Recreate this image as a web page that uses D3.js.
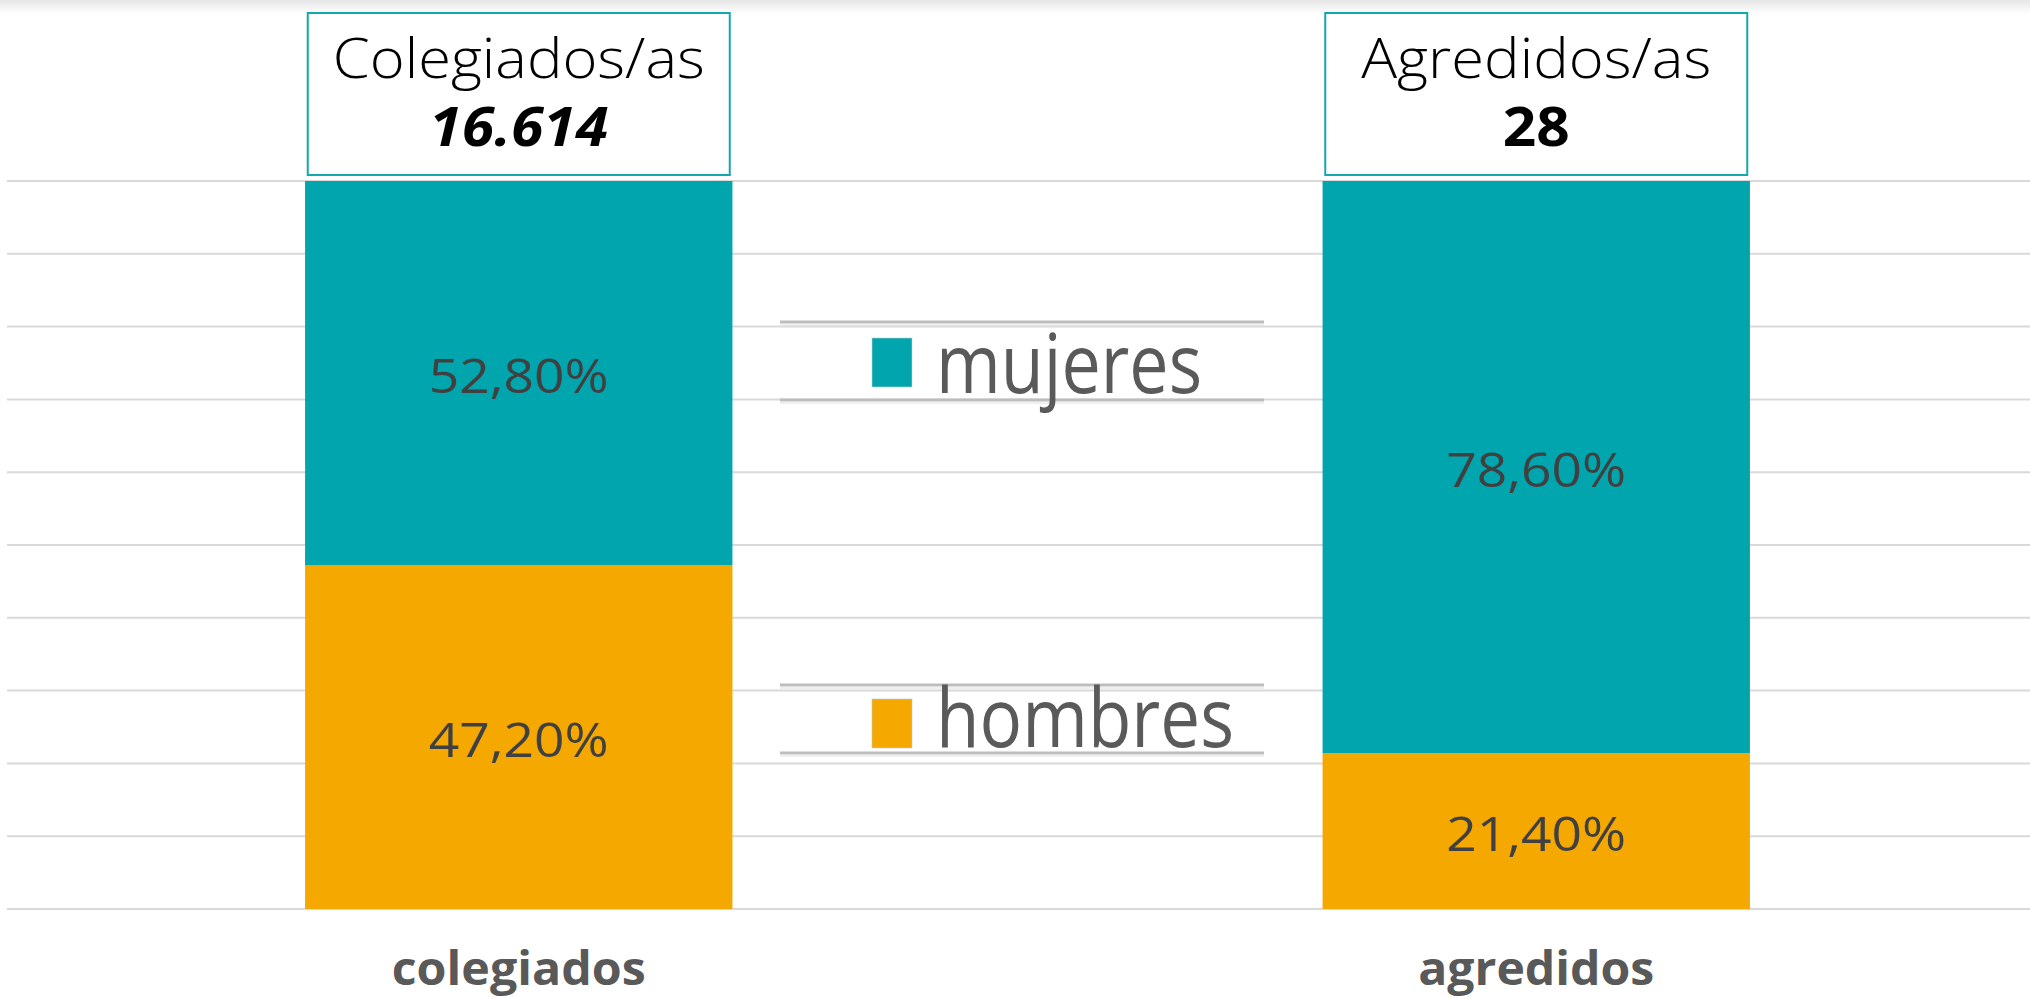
<!DOCTYPE html>
<html>
<head>
<meta charset="utf-8">
<script src="https://cdn.jsdelivr.net/npm/d3@7"></script>
<style>
  body { margin: 0; background: #fff; }
  svg { display: block; }
</style>
</head>
<body>
<svg id="chart" width="2030" height="997"></svg>
<script>
// data
var categories = ["colegiados", "agredidos"];
var boxTitles = ["Colegiados/as", "Agredidos/as"];
var totals = ["16.614", "28"];
var mujeres = [52.8, 78.6];
var hombres = [47.2, 21.4];
var series = ["mujeres", "hombres"];
var yTicks = [0, 10, 20, 30, 40, 50, 60, 70, 80, 90, 100];

var colors = { mujeres: "#00A5AE", hombres: "#F4A800" };
var fmt = function(v) { return v.toFixed(2).replace(".", ",") + "%"; };

var svg = d3.select("#chart");

// faint shadow at the top edge
var grad = svg.append("defs").append("linearGradient")
  .attr("id", "topShade").attr("x1", 0).attr("y1", 0).attr("x2", 0).attr("y2", 1);
grad.append("stop").attr("offset", "0%").attr("stop-color", "#e6e6e6");
grad.append("stop").attr("offset", "100%").attr("stop-color", "#ffffff");
svg.append("rect").attr("x", 0).attr("y", 0).attr("width", 2030).attr("height", 14)
  .attr("fill", "url(#topShade)");

var x = d3.scaleBand().domain(categories).range([10, 2045])
  .paddingInner(0.58).paddingOuter(0.29);
var y = d3.scaleLinear().domain([0, 100]).range([909, 181]);

// gridlines
svg.append("g").selectAll("line").data(yTicks).enter().append("line")
  .attr("x1", 7).attr("x2", 2030)
  .attr("y1", function(d) { return y(d); })
  .attr("y2", function(d) { return y(d); })
  .attr("stroke", "#d9d9d9").attr("stroke-width", 2);

// stacked bars
var rows = categories.map(function(c, i) {
  return { cat: c, mujeres: mujeres[i], hombres: hombres[i] };
});
var stack = d3.stack().keys(["hombres", "mujeres"])(rows);

var layers = svg.append("g").selectAll("g").data(stack).enter().append("g")
  .attr("fill", function(d) { return colors[d.key]; });

layers.selectAll("rect").data(function(d) { return d; }).enter().append("rect")
  .attr("x", function(d) { return x(d.data.cat); })
  .attr("width", x.bandwidth())
  .attr("y", function(d) { return y(d[1]); })
  .attr("height", function(d) { return y(d[0]) - y(d[1]); });

// value labels
layers.selectAll("text").data(function(d) { return d.map(function(s) { return { s: s, key: d.key }; }); })
  .enter().append("text")
  .attr("x", function(d) { return x(d.s.data.cat) + x.bandwidth() / 2; })
  .attr("y", function(d) { return (y(d.s[0]) + y(d.s[1])) / 2 + 20; })
  .attr("text-anchor", "middle")
  .attr("fill", "#404040")
  .style("font-family", "'Open Sans', sans-serif")
  .style("font-weight", 400)
  .style("font-size", "47px")
  .attr("textLength", 180).attr("lengthAdjust", "spacingAndGlyphs")
  .text(function(d) { return fmt(d.s.data[d.key]); });

// title boxes above bars
var boxes = svg.append("g").selectAll("g").data(categories).enter().append("g");
boxes.append("rect")
  .attr("x", function(d) { return x(d) + x.bandwidth() / 2 - 211; })
  .attr("y", 13).attr("width", 422).attr("height", 162)
  .attr("fill", "#fff").attr("stroke", "#14A7AF").attr("stroke-width", 2);
boxes.append("text")
  .attr("x", function(d) { return x(d) + x.bandwidth() / 2; })
  .attr("y", 78).attr("text-anchor", "middle").attr("fill", "#000")
  .style("font-family", "'Open Sans', sans-serif").style("font-weight", 300)
  .style("font-size", "56px")
  .attr("textLength", function(d, i) { return i === 0 ? 372 : 350; })
  .attr("lengthAdjust", "spacingAndGlyphs")
  .text(function(d, i) { return boxTitles[i]; });
boxes.append("text")
  .attr("x", function(d) { return x(d) + x.bandwidth() / 2; })
  .attr("y", 146).attr("text-anchor", "middle").attr("fill", "#000")
  .style("font-family", "'Open Sans', sans-serif").style("font-weight", 700)
  .style("font-style", function(d, i) { return i === 0 ? "italic" : "normal"; })
  .style("font-size", "54px")
  .attr("textLength", function(d, i) { return i === 0 ? 179 : 67; })
  .attr("lengthAdjust", "spacingAndGlyphs")
  .text(function(d, i) { return totals[i]; });

// category labels
svg.append("g").selectAll("text").data(categories).enter().append("text")
  .attr("x", function(d) { return x(d) + x.bandwidth() / 2; })
  .attr("y", 985).attr("text-anchor", "middle").attr("fill", "#595959")
  .style("font-family", "'Open Sans', sans-serif").style("font-weight", 700)
  .style("font-size", "46px")
  .attr("textLength", function(d, i) { return i === 0 ? 254 : 236; })
  .attr("lengthAdjust", "spacingAndGlyphs")
  .text(function(d) { return d; });

// legend (each entry sits between a pair of double grey rules)
var legendY = d3.scalePoint().domain(series).range([322, 685]);
var legendW = [266, 298];
var leg = svg.append("g").selectAll("g").data(series).enter().append("g")
  .attr("transform", function(d) { return "translate(0," + legendY(d) + ")"; });
leg.each(function(d, i) {
  var g = d3.select(this);
  var h = i === 0 ? 78 : 68;
  [0, h].forEach(function(dy) {
    g.append("line").attr("x1", 780).attr("x2", 1264).attr("y1", dy).attr("y2", dy)
      .attr("stroke", "#bdbdbd").attr("stroke-width", 3);
    g.append("line").attr("x1", 780).attr("x2", 1264).attr("y1", dy + 3).attr("y2", dy + 3)
      .attr("stroke", "#e0e0e0").attr("stroke-width", 1);
  });
  g.append("rect").attr("x", 872).attr("y", i === 0 ? 16 : 14)
    .attr("width", 40).attr("height", 49)
    .attr("fill", colors[d]).attr("stroke", "#c8c8c8").attr("stroke-width", 0.6);
  g.append("text").attr("x", 936).attr("y", i === 0 ? 71 : 62)
    .attr("fill", "#5a5a5a")
    .style("font-family", "'Open Sans', sans-serif").style("font-weight", 400)
    .style("font-size", "82px")
    .attr("textLength", legendW[i]).attr("lengthAdjust", "spacingAndGlyphs")
    .text(d);
});
</script>
</body>
</html>
